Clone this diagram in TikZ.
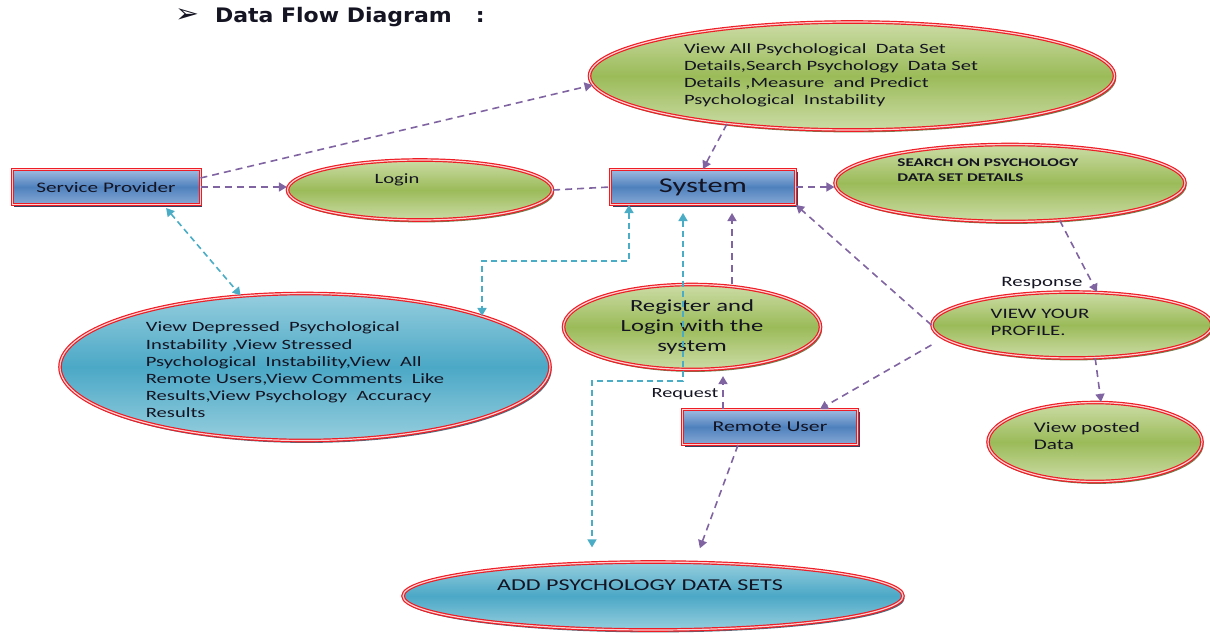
\documentclass[tikz,border=0pt]{standalone}
\usepackage{fontspec}
\setmainfont{Carlito}[FakeStretch=1.45]
\newfontfamily\headfont{DejaVu Sans}[FakeStretch=1.1]
\usepackage{tikz}
\usetikzlibrary{shapes.geometric, arrows.meta, positioning, calc, shadows}
\definecolor{dfdpurple}{RGB}{128, 100, 162}
\definecolor{dfdcyan}{RGB}{75, 172, 198}
\definecolor{dfdgreen}{RGB}{155, 187, 89}
\definecolor{dfdgreenlt}{RGB}{204, 220, 166}
\definecolor{dfdteal}{RGB}{75, 168, 198}
\definecolor{dfdteallt}{RGB}{150, 206, 222}
\definecolor{dfdblue}{RGB}{79, 129, 189}
\definecolor{dfdbluelt}{RGB}{160, 186, 224}
\definecolor{dfdred}{RGB}{238, 28, 36}
\definecolor{dfdnavy}{RGB}{30, 45, 80}
\definecolor{dfdolive}{RGB}{80, 98, 40}
\definecolor{dfdslate}{RGB}{40, 70, 90}
\definecolor{dfdink}{RGB}{20, 20, 35}

\begin{document}
\begin{tikzpicture}[
    x=0.5pt, y=-0.5pt,
    every node/.style={text=dfdink},
    procbox/.style={rectangle, draw=dfdred, double=dfdred!20, double distance=0.5pt, line width=0.5pt,
                    top color=dfdbluelt, bottom color=dfdbluelt!70!dfdblue, middle color=dfdblue,
                    drop shadow={shadow xshift=1pt, shadow yshift=-1pt, fill=dfdnavy, opacity=0.9},
                    minimum height=17.5pt, inner sep=0pt},
    ellbase/.style={ellipse, draw=dfdred, double=dfdred!20, double distance=0.6pt, line width=0.6pt,
                    inner sep=0pt},
    greenell/.style={ellbase, top color=dfdgreenlt, bottom color=dfdgreenlt, middle color=dfdgreen,
                     drop shadow={shadow xshift=0.8pt, shadow yshift=-1.2pt, fill=dfdolive, opacity=0.8}},
    blueell/.style={ellbase, top color=dfdteallt, bottom color=dfdteallt, middle color=dfdteal,
                    drop shadow={shadow xshift=0.8pt, shadow yshift=-1.2pt, fill=dfdslate, opacity=0.8}},
    flowline/.style={dfdpurple, line width=0.8pt, dash pattern=on 3.5pt off 2.5pt},
    flowarrow/.style={flowline, -{Triangle[length=4pt, width=4.5pt]}},
    dataarrow/.style={dfdcyan, line width=0.8pt, dash pattern=on 3pt off 2pt,
                      {Triangle[length=4pt, width=4.5pt]}-{Triangle[length=4pt, width=4.5pt]}}
]
\useasboundingbox (0,0) rectangle (1210,632);

% Heading
\node[anchor=west, font=\headfont\bfseries\fontsize{10}{11}\selectfont] (title) at (168,17)
    {{\fontsize{13}{13}\selectfont ➢}\hspace{8pt}Data Flow Diagram\hspace{12pt}:};

% Actors
\node[procbox, minimum width=94pt, font=\fontsize{7.3}{8}\selectfont] (provider) at (106,187) {Service Provider};
\node[procbox, minimum width=92.5pt, font=\fontsize{10.5}{12}\selectfont] (system) at (703,187) {System};
\node[procbox, minimum width=87.5pt, font=\fontsize{7.5}{8}\selectfont] (remote) at (770,427) {Remote User};

% Processes
\node[greenell, minimum width=132.5pt, minimum height=30pt,
      label={[xshift=-11.5pt, yshift=5pt, font=\fontsize{7.1}{8}\selectfont]center:Login}] (login) at (420,190) {};
\node[greenell, minimum width=262.5pt, minimum height=54pt,
      label={[xshift=-10.5pt, yshift=0.5pt, font=\fontsize{7.1}{8.5}\selectfont, align=left]center:{View All Psychological\ \ Data Set\\Details,Search Psychology\ \ Data Set\\Details ,Measure\ \ and Predict\\Psychological\ \ Instability}}] (viewall) at (852,76) {};
\node[greenell, minimum width=175pt, minimum height=38.5pt,
      label={[xshift=-11pt, yshift=6.5pt, font=\bfseries\fontsize{5.9}{7.5}\selectfont, align=left]center:{SEARCH ON PSYCHOLOGY\\DATA SET DETAILS}}] (search) at (1010,183) {};
\node[greenell, minimum width=128.5pt, minimum height=42.5pt,
      label={[font=\fontsize{8.5}{9.8}\selectfont, align=center]center:{Register and\\Login with the\\system}}] (register) at (692,327) {};
\node[greenell, minimum width=140pt, minimum height=33pt,
      label={[xshift=-16pt, yshift=1.5pt, font=\fontsize{7.2}{8.5}\selectfont, align=left]center:{VIEW YOUR\\PROFILE.}}] (profile) at (1072,325) {};
\node[greenell, minimum width=107pt, minimum height=39.5pt,
      label={[xshift=-4pt, yshift=3pt, font=\fontsize{7.3}{8.5}\selectfont, align=left]center:{View posted\\Data}}] (posted) at (1095,442) {};

% Data stores
\node[blueell, minimum width=245pt, minimum height=73.5pt,
      label={[xshift=-5pt, yshift=-1.5pt, font=\fontsize{7.1}{8.6}\selectfont, align=left]center:{View Depressed\ \ Psychological\\Instability ,View Stressed\\Psychological\ \ Instability,View\ \ All\\Remote Users,View Comments\ \ Like\\Results,View Psychology\ \ Accuracy\\Results}}] (viewdata) at (305,367) {};
\node[blueell, minimum width=250pt, minimum height=34pt,
      label={[xshift=-6.5pt, yshift=5.5pt, font=\fontsize{8.3}{9}\selectfont]center:ADD PSYCHOLOGY DATA SETS}] (adddata) at (653,596) {};

% Flow labels
\node[font=\fontsize{7.2}{8}\selectfont] (response) at (1042,283) {Response};
\node[font=\fontsize{7}{8}\selectfont] (request) at (685,394) {Request};

% Bend points
\coordinate (regtop) at ([xshift=20pt]register.north);
\coordinate (remtop) at ([xshift=-23.5pt]remote.north);
\coordinate (bendA) at (482,261);
\coordinate (bendB) at (592,381);

% Purple flows
\draw[flowarrow] ([yshift=4.5pt]provider.east) -- (viewall.182);
\draw[flowarrow] (provider.east) -- (provider.east -| login.west);
\draw[flowline] (login.east) -- (system.west);
\draw[flowarrow] (viewall.201) -- (system.north);
\draw[flowarrow] (system.east) -- (system.east -| search.west);
\draw[flowarrow] (search.323) -- (profile.53);
\draw[flowarrow] (profile.west) -- (system.south east);
\draw[flowarrow] ([yshift=-10pt]profile.west) -- ([xshift=25pt]remote.north);
\draw[flowarrow] (profile.305) -- ([xshift=3pt]posted.north);
\draw[flowarrow, shorten >=4pt] (regtop) -- (regtop |- system.south);
\draw[flowarrow, shorten >=3pt] (remtop) -- (remtop |- register.south);
\draw[flowarrow, shorten >=7pt] ([xshift=-16pt]remote.south) -- ([xshift=21pt]adddata.north);

% Cyan flows
\draw[dataarrow, shorten <=2pt] ([xshift=-18.5pt]provider.south east) -- (viewdata.132);
\draw[dataarrow] ([xshift=-37pt]system.south) |- (bendA) -- (bendA |- viewdata.16);
\draw[dataarrow, shorten <=4pt, shorten >=7pt] ([xshift=-10pt]system.south) |- (bendB) -- (bendB |- adddata.north);

\end{tikzpicture}
\end{document}
